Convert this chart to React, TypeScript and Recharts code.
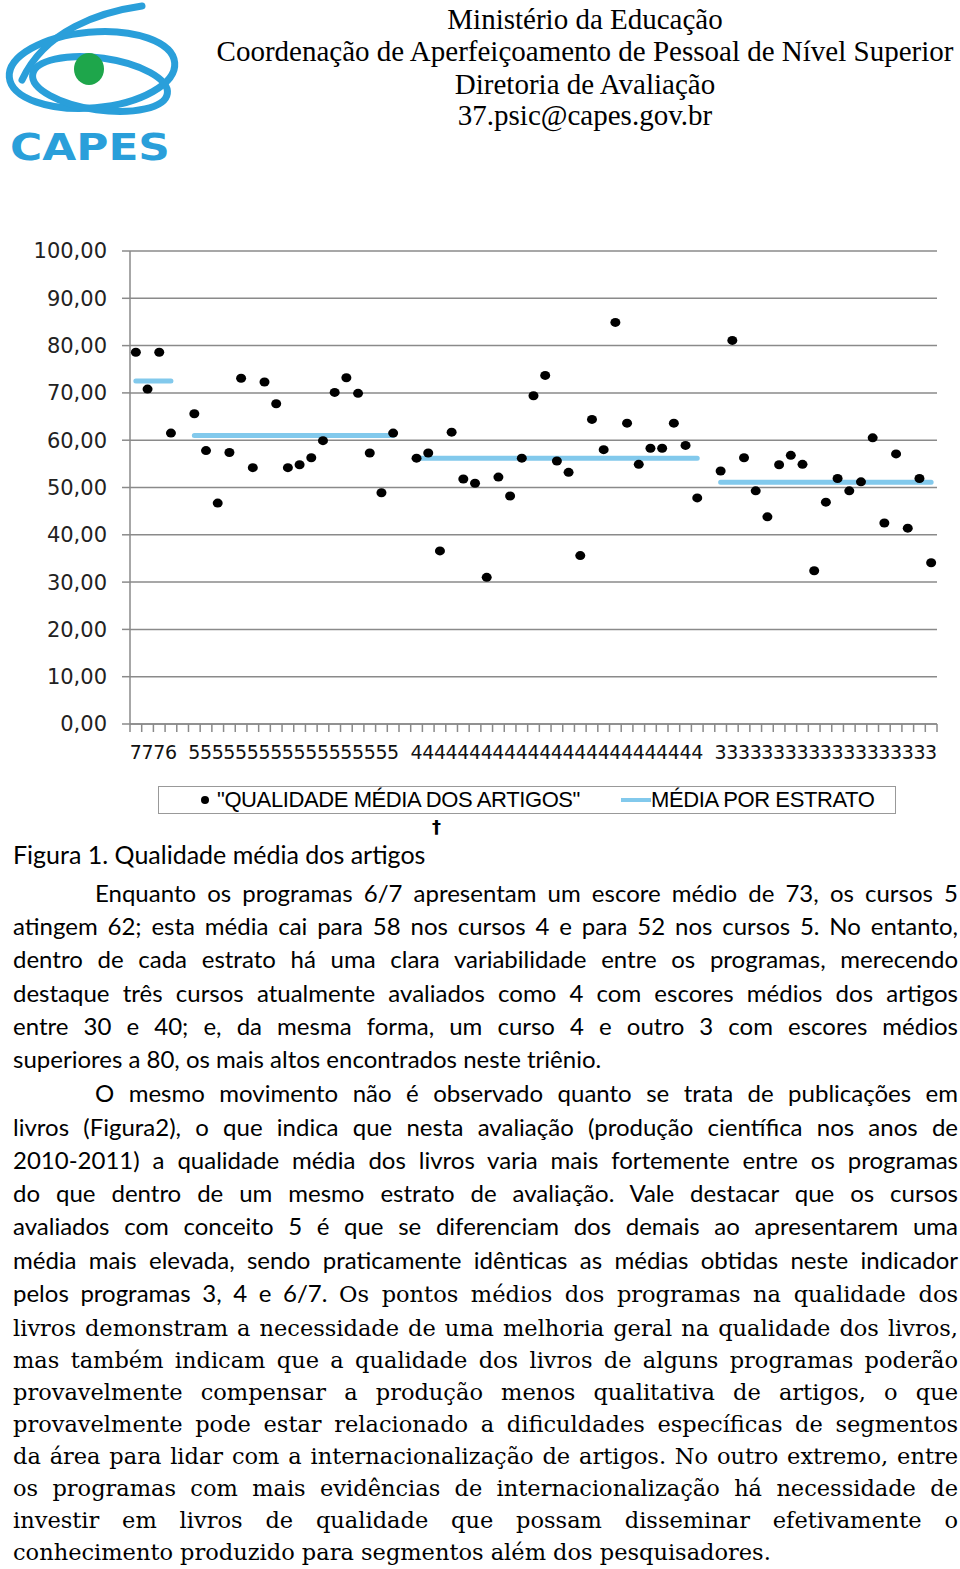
import React from "react";
import { ComposedChart, Line, XAxis, YAxis, CartesianGrid } from "recharts";

// stratum labels under the axis, one per programme
const LABELS_67 = ["7", "7", "7", "6"];
const LABEL_5 = "5";
const LABEL_4 = "4";
const LABEL_3 = "3";

// "qualidade média dos artigos" per programme
const QUALITY_67 = [78.6, 70.8, 78.6, 61.5];
const QUALITY_5 = [65.6, 57.8, 46.7, 57.4, 73.1, 54.2, 72.3, 67.7, 54.2, 54.8, 56.3, 59.9, 70.1, 73.2, 69.9, 57.3, 48.9, 61.5];
const QUALITY_4 = [56.2, 57.3, 36.6, 61.7, 51.8, 50.9, 31.0, 52.2, 48.2, 56.2, 69.4, 73.7, 55.6, 53.2, 35.6, 64.4, 58.0, 84.9, 63.6, 54.9, 58.3, 58.3, 63.6, 58.9, 47.8];
const QUALITY_3 = [53.5, 81.1, 56.3, 49.3, 43.8, 54.8, 56.8, 54.9, 32.4, 46.9, 51.9, 49.3, 51.2, 60.5, 42.5, 57.1, 41.4, 51.9, 34.1];

// média por estrato (6/7, 5, 4, 3)
const STRATUM_MEANS = [72.5, 61.0, 56.2, 51.1];

const Y_TICKS = [0, 10, 20, 30, 40, 50, 60, 70, 80, 90, 100];

const BLUE = "#82C9EC";
const GRID = "#8a8a8a";

type Row = { x: number; label: string; q: number | null; m: number | null };

function buildRows(): Row[] {
  const groups = [
    { labels: LABELS_67, values: QUALITY_67 },
    { labels: QUALITY_5.map(() => LABEL_5), values: QUALITY_5 },
    { labels: QUALITY_4.map(() => LABEL_4), values: QUALITY_4 },
    { labels: QUALITY_3.map(() => LABEL_3), values: QUALITY_3 },
  ];
  const rows: Row[] = [];
  groups.forEach((g, gi) => {
    if (gi > 0) rows.push({ x: rows.length + 0.5, label: "", q: null, m: null });
    g.values.forEach((v, i) => {
      rows.push({ x: rows.length + 0.5, label: g.labels[i], q: v, m: STRATUM_MEANS[gi] });
    });
  });
  return rows;
}

const rows = buildRows();
const N = rows.length;
const xTicks: number[] = [];
for (let i = 0; i <= N; i++) {
  xTicks.push(i);
  if (i < N) xTicks.push(i + 0.5);
}

function XTick(props: any) {
  const { x, y, payload } = props;
  const v = payload.value as number;
  if (Number.isInteger(v)) {
    return <line x1={x} y1={y} x2={x} y2={y + 8} stroke={GRID} strokeWidth={1.5} />;
  }
  const row = rows[Math.floor(v)];
  return (
    <text x={x} y={y + 35} textAnchor="middle" fontFamily="DejaVu Sans" fontSize={19} fill="#111">
      {row ? row.label : ""}
    </text>
  );
}

function Dot(props: any) {
  const { cx, cy, index } = props;
  if (cx == null || cy == null || props.value == null) return <g key={`d${index}`} />;
  return <ellipse key={`d${index}`} cx={cx} cy={cy} rx={5} ry={4.5} fill="#000" />;
}

function Logo() {
  return (
    <svg width={190} height={170} style={{ position: "absolute", left: 0, top: 0 }}>
      <g fill="none" stroke="#2A9FDA" strokeWidth={7} strokeLinecap="round">
        <ellipse cx={92} cy={70} rx={83} ry={38} transform="rotate(-5 92 70)" />
        <ellipse cx={100} cy={84} rx={68} ry={26} transform="rotate(8 100 84)" />
        <path d="M142 6 C 100 12, 45 30, 22 80" />
      </g>
      <ellipse cx={89} cy={69} rx={15} ry={16} fill="#1EA64B" />
      <text x={10} y={160} fontFamily="DejaVu Sans" fontWeight="bold" fontSize={38} fill="#2A9FDA" textLength={160} lengthAdjust="spacingAndGlyphs">
        CAPES
      </text>
    </svg>
  );
}

const HEADER = [
  { text: "Ministério da Educação", y: 19 },
  { text: "Coordenação de Aperfeiçoamento de Pessoal de Nível Superior", y: 51 },
  { text: "Diretoria de Avaliação", y: 84 },
  { text: "37.psic@capes.gov.br", y: 115 },
];

const SANS = "Lato, 'Open Sans', sans-serif";
const SERIF = "'DejaVu Serif', serif";

type TextLine = { y: number; indent?: boolean; last?: boolean; parts: { t: string; serif?: boolean }[] };

const BODY: TextLine[] = [
  { y: 893, indent: true, parts: [{ t: "Enquanto os programas 6/7 apresentam um escore médio de 73, os cursos 5" }] },
  { y: 926, parts: [{ t: "atingem 62; esta média cai para 58 nos cursos 4 e para 52 nos cursos 5. No entanto," }] },
  { y: 959, parts: [{ t: "dentro de cada estrato há uma clara variabilidade entre os programas, merecendo" }] },
  { y: 993, parts: [{ t: "destaque três cursos atualmente avaliados como 4 com escores médios dos artigos" }] },
  { y: 1026, parts: [{ t: "entre 30 e 40; e, da mesma forma, um curso 4 e outro 3 com escores médios" }] },
  { y: 1059, last: true, parts: [{ t: "superiores a 80, os mais altos encontrados neste triênio." }] },
  { y: 1093, indent: true, parts: [{ t: "O mesmo movimento não é observado quanto se trata de publicações em" }] },
  { y: 1127, parts: [{ t: "livros (Figura2), o que indica que nesta avaliação (produção científica nos anos de" }] },
  { y: 1160, parts: [{ t: "2010-2011) a qualidade média dos livros varia mais fortemente entre os programas" }] },
  { y: 1193, parts: [{ t: "do que dentro de um mesmo estrato de avaliação. Vale destacar que os cursos" }] },
  { y: 1226, parts: [{ t: "avaliados com conceito 5 é que se diferenciam dos demais ao apresentarem uma" }] },
  { y: 1260, parts: [{ t: "média mais elevada, sendo praticamente idênticas as médias obtidas neste indicador" }] },
  { y: 1293, parts: [{ t: "pelos programas 3, 4 e 6/7. " }, { t: "Os pontos médios dos programas na qualidade dos", serif: true }] },
  { y: 1327, parts: [{ t: "livros demonstram a necessidade de uma melhoria geral na qualidade dos livros,", serif: true }] },
  { y: 1359, parts: [{ t: "mas também indicam que a qualidade dos livros de alguns programas poderão", serif: true }] },
  { y: 1391, parts: [{ t: "provavelmente compensar a produção menos qualitativa de artigos, o que", serif: true }] },
  { y: 1423, parts: [{ t: "provavelmente pode estar relacionado a dificuldades específicas de segmentos", serif: true }] },
  { y: 1455, parts: [{ t: "da área para lidar com a internacionalização de artigos. No outro extremo, entre", serif: true }] },
  { y: 1487, parts: [{ t: "os programas com mais evidências de internacionalização há necessidade de", serif: true }] },
  { y: 1519, parts: [{ t: "investir em livros de qualidade que possam disseminar efetivamente o", serif: true }] },
  { y: 1551, last: true, parts: [{ t: "conhecimento produzido para segmentos além dos pesquisadores.", serif: true }] },
];

export default function App() {
  return (
    <div style={{ position: "absolute", left: 0, top: 0, width: 960, height: 1569, background: "#fff", overflow: "hidden", color: "#000" }}>
      <Logo />
      {HEADER.map((h) => (
        <div
          key={h.text}
          style={{ position: "absolute", left: 210, width: 750, top: h.y - 16, height: 32, lineHeight: "32px", textAlign: "center", fontFamily: "'Liberation Serif', serif", fontSize: 29, whiteSpace: "nowrap" }}
        >
          {h.text}
        </div>
      ))}

      <div style={{ position: "absolute", left: 0, top: 230 }}>
        <ComposedChart width={960} height={560} data={rows} margin={{ top: 21, right: 23, left: 0, bottom: 26 }}>
          <CartesianGrid horizontal vertical={false} stroke={GRID} strokeWidth={1.5} />
          <XAxis
            type="number"
            dataKey="x"
            domain={[0, N]}
            ticks={xTicks}
            interval={0}
            tickSize={0}
            tickMargin={0}
            tick={<XTick />}
            axisLine={{ stroke: GRID, strokeWidth: 1.5 }}
            height={40}
          />
          <YAxis
            type="number"
            domain={[0, 100]}
            ticks={Y_TICKS}
            interval={0}
            width={130}
            tickSize={8}
            tickMargin={15}
            tickLine={{ stroke: GRID, strokeWidth: 1.5 }}
            axisLine={{ stroke: GRID, strokeWidth: 1.5 }}
            tick={{ fontFamily: "DejaVu Sans", fontSize: 21, fill: "#222" }}
            tickFormatter={(v: number) => v.toFixed(2).replace(".", ",")}
          />
          <Line
            dataKey="m"
            stroke={BLUE}
            strokeWidth={5}
            strokeLinecap="round"
            dot={false}
            activeDot={false}
            connectNulls={false}
            isAnimationActive={false}
          />
          <Line
            dataKey="q"
            stroke="none"
            dot={<Dot />}
            activeDot={false}
            connectNulls={false}
            isAnimationActive={false}
          />
        </ComposedChart>
      </div>

      {/* Legend */}
      <div style={{ position: "absolute", left: 158, top: 786, width: 738, height: 28, border: "1.5px solid #999", boxSizing: "border-box", fontFamily: "'Liberation Sans', sans-serif", fontSize: 22, letterSpacing: -0.4, lineHeight: "25px", whiteSpace: "nowrap" }}>
        <div style={{ position: "absolute", left: 42, top: 9, width: 8, height: 8, borderRadius: 4, background: "#000" }} />
        <div style={{ position: "absolute", left: 58, top: 0 }}>"QUALIDADE MÉDIA DOS ARTIGOS"</div>
        <div style={{ position: "absolute", left: 462, top: 11, width: 30, height: 4, background: BLUE }} />
        <div style={{ position: "absolute", left: 492, top: 0 }}>MÉDIA POR ESTRATO</div>
      </div>
      <div style={{ position: "absolute", left: 432, top: 816, fontFamily: "'DejaVu Sans', sans-serif", fontWeight: "bold", fontSize: 18 }}>†</div>

      <div style={{ position: "absolute", left: 13, top: 854 - 16, height: 32, lineHeight: "32px", fontFamily: SANS, fontSize: 25, whiteSpace: "nowrap" }}>
        Figura 1. Qualidade média dos artigos
      </div>

      {BODY.map((l) => (
        <div
          key={l.y}
          style={{
            position: "absolute",
            left: l.indent ? 95 : 13,
            width: l.indent ? 863 : 945,
            top: l.y - 16,
            height: 32,
            lineHeight: "32px",
            fontFamily: SANS,
            fontSize: 24,
            textAlign: l.last ? "left" : "justify",
            textAlignLast: l.last ? "left" : "justify",
            whiteSpace: "nowrap",
          }}
        >
          {l.parts.map((p, i) => (
            <span key={i} style={p.serif ? { fontFamily: SERIF, fontSize: 22.5 } : undefined}>
              {p.t}
            </span>
          ))}
        </div>
      ))}
    </div>
  );
}
